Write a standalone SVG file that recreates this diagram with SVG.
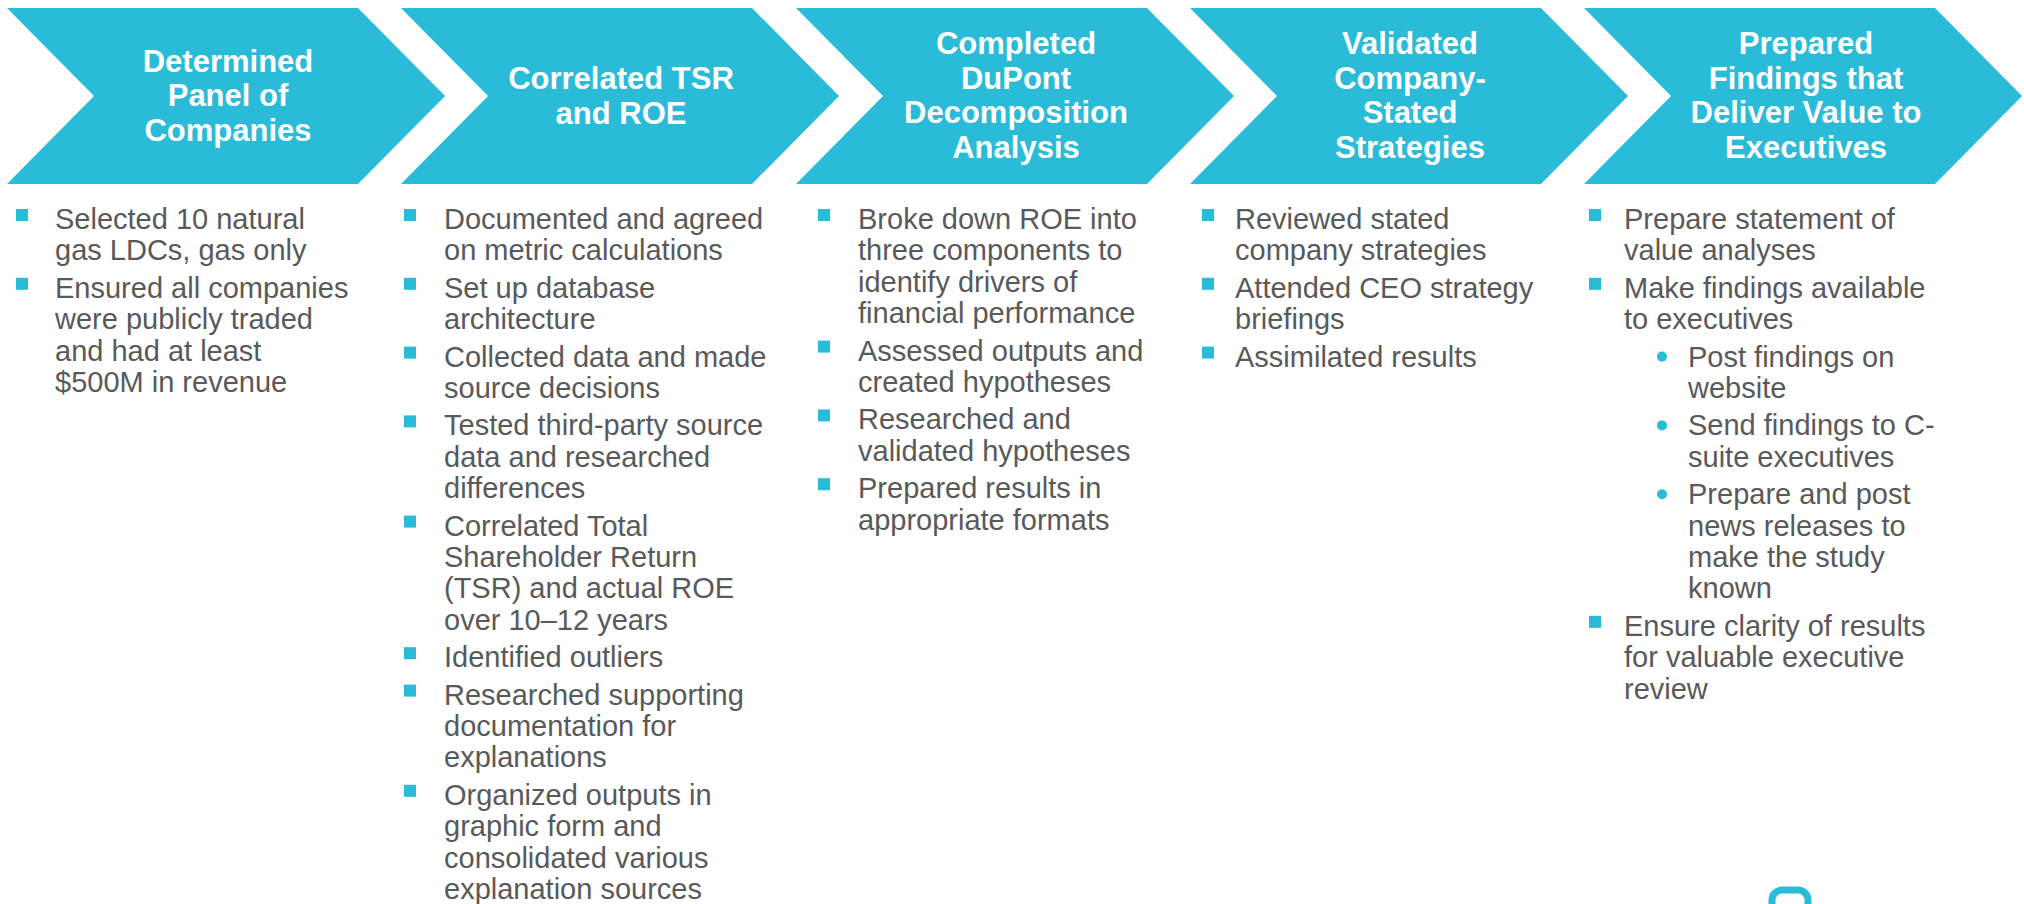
<svg xmlns="http://www.w3.org/2000/svg" width="2024" height="904" viewBox="0 0 2024 904">
<style>
.chev{fill:#29BBD7;}
.hd{font-family:"Liberation Sans",Arial,sans-serif;font-weight:bold;font-size:31px;fill:#FFFFFF;text-anchor:middle;}
.bd{font-family:"Liberation Sans",Arial,sans-serif;font-size:29px;fill:#58595B;}
.sq{fill:#29BBD7;}
.dot{fill:#29BBD7;}
</style>
<rect width="2024" height="904" fill="#FFFFFF"/>
<g id="step1">
<polygon class="chev" points="7,8 358,8 445,96 358,184 7,184 94,96"/>
<text class="hd"><tspan x="228" y="71.5">Determined</tspan><tspan x="228" y="106">Panel of</tspan><tspan x="228" y="140.5">Companies</tspan></text>
<rect class="sq" x="16" y="209" width="12" height="12"/>
<rect class="sq" x="16" y="277.8" width="12" height="12"/>
<text class="bd"><tspan x="55" y="229">Selected 10 natural</tspan><tspan x="55" y="260.4">gas LDCs, gas only</tspan><tspan x="55" y="297.8">Ensured all companies</tspan><tspan x="55" y="329.2">were publicly traded</tspan><tspan x="55" y="360.6">and had at least</tspan><tspan x="55" y="392">$500M in revenue</tspan></text>
</g>
<g id="step2">
<polygon class="chev" points="401,8 752,8 839,96 752,184 401,184 488,96"/>
<text class="hd"><tspan x="621" y="89">Correlated TSR</tspan><tspan x="621" y="123.5">and ROE</tspan></text>
<rect class="sq" x="404" y="209" width="12" height="12"/>
<rect class="sq" x="404" y="277.8" width="12" height="12"/>
<rect class="sq" x="404" y="346.6" width="12" height="12"/>
<rect class="sq" x="404" y="415.4" width="12" height="12"/>
<rect class="sq" x="404" y="515.6" width="12" height="12"/>
<rect class="sq" x="404" y="647.2" width="12" height="12"/>
<rect class="sq" x="404" y="684.6" width="12" height="12"/>
<rect class="sq" x="404" y="784.8" width="12" height="12"/>
<text class="bd"><tspan x="444" y="229">Documented and agreed</tspan><tspan x="444" y="260.4">on metric calculations</tspan><tspan x="444" y="297.8">Set up database</tspan><tspan x="444" y="329.2">architecture</tspan><tspan x="444" y="366.6">Collected data and made</tspan><tspan x="444" y="398">source decisions</tspan><tspan x="444" y="435.4">Tested third-party source</tspan><tspan x="444" y="466.8">data and researched</tspan><tspan x="444" y="498.2">differences</tspan><tspan x="444" y="535.6">Correlated Total</tspan><tspan x="444" y="567">Shareholder Return</tspan><tspan x="444" y="598.4">(TSR) and actual ROE</tspan><tspan x="444" y="629.8">over 10–12 years</tspan><tspan x="444" y="667.2">Identified outliers</tspan><tspan x="444" y="704.6">Researched supporting</tspan><tspan x="444" y="736">documentation for</tspan><tspan x="444" y="767.4">explanations</tspan><tspan x="444" y="804.8">Organized outputs in</tspan><tspan x="444" y="836.2">graphic form and</tspan><tspan x="444" y="867.6">consolidated various</tspan><tspan x="444" y="899">explanation sources</tspan></text>
</g>
<g id="step3">
<polygon class="chev" points="796,8 1147,8 1234,96 1147,184 796,184 883,96"/>
<text class="hd"><tspan x="1016" y="54">Completed</tspan><tspan x="1016" y="88.5">DuPont</tspan><tspan x="1016" y="123">Decomposition</tspan><tspan x="1016" y="157.5">Analysis</tspan></text>
<rect class="sq" x="818" y="209" width="12" height="12"/>
<rect class="sq" x="818" y="340.6" width="12" height="12"/>
<rect class="sq" x="818" y="409.4" width="12" height="12"/>
<rect class="sq" x="818" y="478.2" width="12" height="12"/>
<text class="bd"><tspan x="858" y="229">Broke down ROE into</tspan><tspan x="858" y="260.4">three components to</tspan><tspan x="858" y="291.8">identify drivers of</tspan><tspan x="858" y="323.2">financial performance</tspan><tspan x="858" y="360.6">Assessed outputs and</tspan><tspan x="858" y="392">created hypotheses</tspan><tspan x="858" y="429.4">Researched and</tspan><tspan x="858" y="460.8">validated hypotheses</tspan><tspan x="858" y="498.2">Prepared results in</tspan><tspan x="858" y="529.6">appropriate formats</tspan></text>
</g>
<g id="step4">
<polygon class="chev" points="1190,8 1541,8 1628,96 1541,184 1190,184 1277,96"/>
<text class="hd"><tspan x="1410" y="54">Validated</tspan><tspan x="1410" y="88.5">Company-</tspan><tspan x="1410" y="123">Stated</tspan><tspan x="1410" y="157.5">Strategies</tspan></text>
<rect class="sq" x="1202" y="209" width="12" height="12"/>
<rect class="sq" x="1202" y="277.8" width="12" height="12"/>
<rect class="sq" x="1202" y="346.6" width="12" height="12"/>
<text class="bd"><tspan x="1235" y="229">Reviewed stated</tspan><tspan x="1235" y="260.4">company strategies</tspan><tspan x="1235" y="297.8">Attended CEO strategy</tspan><tspan x="1235" y="329.2">briefings</tspan><tspan x="1235" y="366.6">Assimilated results</tspan></text>
</g>
<g id="step5">
<polygon class="chev" points="1584,8 1935,8 2022,96 1935,184 1584,184 1671,96"/>
<text class="hd"><tspan x="1806" y="54">Prepared</tspan><tspan x="1806" y="88.5">Findings that</tspan><tspan x="1806" y="123">Deliver Value to</tspan><tspan x="1806" y="157.5">Executives</tspan></text>
<rect class="sq" x="1589" y="209" width="12" height="12"/>
<rect class="sq" x="1589" y="277.8" width="12" height="12"/>
<rect class="sq" x="1589" y="615.8" width="12" height="12"/>
<circle class="dot" cx="1662" cy="356.6" r="5"/>
<circle class="dot" cx="1662" cy="425.4" r="5"/>
<circle class="dot" cx="1662" cy="494.2" r="5"/>
<text class="bd"><tspan x="1624" y="229">Prepare statement of</tspan><tspan x="1624" y="260.4">value analyses</tspan><tspan x="1624" y="297.8">Make findings available</tspan><tspan x="1624" y="329.2">to executives</tspan><tspan x="1688" y="366.6">Post findings on</tspan><tspan x="1688" y="398">website</tspan><tspan x="1688" y="435.4">Send findings to C-</tspan><tspan x="1688" y="466.8">suite executives</tspan><tspan x="1688" y="504.2">Prepare and post</tspan><tspan x="1688" y="535.6">news releases to</tspan><tspan x="1688" y="567">make the study</tspan><tspan x="1688" y="598.4">known</tspan><tspan x="1624" y="635.8">Ensure clarity of results</tspan><tspan x="1624" y="667.2">for valuable executive</tspan><tspan x="1624" y="698.6">review</tspan></text>
</g>
<g id="logo">
<rect x="1772" y="890" width="36" height="40" rx="10" fill="none" stroke="#29BBD7" stroke-width="7"/>
</g>
<g id="connectors"></g>
</svg>
